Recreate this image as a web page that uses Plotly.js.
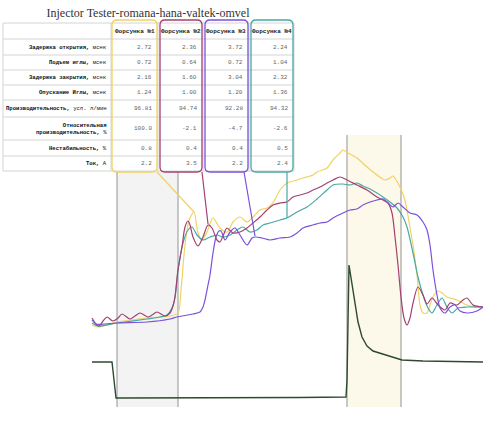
<!DOCTYPE html>
<html><head><meta charset="utf-8">
<script src="https://cdn.plot.ly/plotly-3.0.1.min.js"></script>
<style>html,body{margin:0;padding:0;background:#fff}#chart{width:500px;height:426px}</style>
</head><body><div id="chart"></div>
<script>
// ---------- text / table data ----------
const chartTitle = 'Injector Tester-romana-hana-valtek-omvel';
const injectors = ['Форсунка №1', 'Форсунка №2', 'Форсунка №3', 'Форсунка №4'];
const rowLabels = [
  '<b>Задержка открытия,</b> мсек',
  '<b>Подъем иглы,</b> мсек',
  '<b>Задержка закрытия,</b> мсек',
  '<b>Опускание Иглы,</b> мсек',
  '<b>Производительность,</b> усл. л/мин',
  '<b>Относительная</b><br><b>производительность,</b> %',
  '<b>Нестабильность,</b> %',
  '<b>Ток,</b> А'
];
const rowDecimals = [2, 2, 2, 2, 2, 1, 1, 1];
const injector1 = [2.72, 0.72, 2.16, 1.24, 96.81, 100.0, 0.8, 2.2];
const injector2 = [2.36, 0.64, 1.60, 1.00, 94.74, -2.1, 0.4, 3.5];
const injector3 = [3.72, 0.72, 3.04, 1.20, 92.28, -4.7, 0.4, 2.2];
const injector4 = [2.24, 1.04, 2.32, 1.36, 94.32, -2.6, 0.5, 2.4];

// ---------- waveform data (time samples, signal level; level axis points down) ----------
const yellowT = [92,98,117,147,170,178,181,184,187,190,194,198,202,207,213,220,227,233,240,247,253,260,267,273,280,287,297,303,313,317,327,333,340,343,348,357,367,377,385,390,393,400,404,407,410,413,417,420,423,427,430,434,438,442,447,457,467,475,483];
const yellowV = [325,327,322,318,316,313,290,255,230,218,212,233,240,232,218,228,232,222,217,222,217,210,208,203,190,183,180,178,175,172,168,160,153,150,153,158,167,175,180,178,176,187,197,210,228,245,275,305,313,313,305,295,291,293,297,300,305,307,307];

const maroonT = [92,96,99,103,107,113,118,122,130,135,140,148,152,157,165,170,173,175,178,182,185,188,190,193,198,203,208,212,217,220,223,227,233,240,247,253,260,267,273,280,287,293,300,307,313,320,327,333,340,347,357,367,377,383,388,392,395,398,401,404,407,410,413,418,423,427,432,438,445,450,457,463,467,473,483];
const maroonV = [318,324,326,321,317,321,318,314,319,316,313,317,315,312,316,313,306,297,270,247,227,221,225,237,246,237,225,228,240,242,236,228,233,232,228,223,217,210,205,203,202,197,195,193,190,187,183,180,177,180,185,190,197,200,203,213,237,265,297,318,325,318,303,287,295,304,298,305,310,303,305,300,298,305,307];

const tealT = [92,98,117,147,160,167,172,175,178,183,188,192,197,203,210,217,223,230,237,243,250,257,263,270,280,287,297,307,317,327,333,343,350,357,363,370,377,383,390,397,403,407,413,418,423,428,432,437,442,447,452,458,467,483];
const tealV = [323,326,323,319,317,315,308,297,270,243,230,227,235,240,237,235,237,235,230,227,232,230,225,223,220,218,212,207,199,190,185,184,185,183,186,189,193,197,202,208,217,227,253,277,295,308,313,305,298,307,313,308,307,307];

const purpleT = [92,96,105,117,147,170,177,193,200,203,205,208,210,213,216,219,221,225,230,235,240,247,252,255,262,270,280,290,297,303,313,320,327,333,343,350,357,363,370,377,383,388,393,398,403,410,417,423,427,430,433,437,440,445,450,455,460,467,477,483];
const purpleV = [320,324,324,323,322,319,317,314,312,307,300,285,275,253,237,231,231,240,232,228,235,245,238,237,238,240,238,237,233,228,225,223,222,218,213,210,209,205,202,200,199,203,207,203,207,213,215,222,230,245,270,295,308,313,307,305,311,313,311,307];

const currentT = [92,112,114,116,120,200,300,346,347,349,352,355,358,362,367,373,380,393,402,423,483];
const currentV = [362,362,380,398,398,398,397.5,397,380,265,283,305,322,337,346,351,353,357,360,361,362];

// event markers (injection window edges) and highlighted windows
const eventT = [117, 178, 347, 401];
const eventTop = [172, 172, 135, 135];
const markerBottom = 407;

// table geometry (in the same units as the plot)
const colEdges = [3, 111, 158, 203, 249, 294];
const tableTop = 23;
const rowHeights = [16, 16, 15, 15, 15, 17, 23, 16, 15];

// injector column boxes: [left, right], callout target on each curve
const boxLeft = [112, 160, 205, 251];
const boxRight = [157, 202, 248, 293];
const boxTop = 20, boxBottom = 172;
const calloutFromT = [157, 202, 244, 287];
const calloutToT = [194, 208, 255, 287];
const calloutToV = [212, 224, 236, 218];

const colors = ['#f0d264', '#a3416f', '#7a52d9', '#46a9a3'];
const currentColor = '#2f4a30';
const gridColor = '#d4d4d4';

// ---------- build ----------
function fmtCol(arr) { return arr.map((v, i) => v.toFixed(rowDecimals[i])); }

const traces = [];
const series = [[yellowT, yellowV], [maroonT, maroonV], [purpleT, purpleV], [tealT, tealV]];
traces.push({type: 'scatter', mode: 'lines', x: currentT, y: currentV, line: {color: currentColor, width: 1.4}, hoverinfo: 'skip'});
[0, 3, 1, 2].forEach(i => {
  traces.push({type: 'scatter', mode: 'lines', x: series[i][0], y: series[i][1],
    line: {color: colors[i], width: 1.2, shape: 'spline', smoothing: 0.8}, hoverinfo: 'skip'});
});

const shapes = [];
shapes.push({type: 'rect', xref: 'x', yref: 'y', x0: eventT[0], x1: eventT[1], y0: eventTop[0], y1: markerBottom, fillcolor: '#f3f3f3', line: {width: 0}, layer: 'below'});
shapes.push({type: 'rect', xref: 'x', yref: 'y', x0: eventT[2], x1: eventT[3], y0: eventTop[2], y1: markerBottom, fillcolor: '#fcf8ea', line: {width: 0}, layer: 'below'});
eventT.forEach((t, i) => shapes.push({type: 'line', xref: 'x', yref: 'y', x0: t, x1: t, y0: eventTop[i], y1: markerBottom, line: {color: '#939393', width: 1}, layer: 'below'}));

// table grid
const rowEdges = [tableTop];
rowHeights.forEach(h => rowEdges.push(rowEdges[rowEdges.length - 1] + h));
const tableBottom = rowEdges[rowEdges.length - 1];
rowEdges.forEach(y => shapes.push({type: 'line', xref: 'x', yref: 'y', x0: colEdges[0], x1: colEdges[colEdges.length - 1], y0: y, y1: y, line: {color: gridColor, width: 1}, layer: 'below'}));
colEdges.forEach(x => shapes.push({type: 'line', xref: 'x', yref: 'y', x0: x, x1: x, y0: tableTop, y1: tableBottom, line: {color: gridColor, width: 1}, layer: 'below'}));

// table text
const annotations = [];
const tfont = 'Liberation Mono, monospace';
injectors.forEach((name, c) => annotations.push({xref: 'x', yref: 'y', x: (colEdges[c + 1] + colEdges[c + 2]) / 2, y: (rowEdges[0] + rowEdges[1]) / 2,
  text: '<b>' + name + '</b>', showarrow: false, xanchor: 'center', yanchor: 'middle', font: {family: tfont, size: 6, color: '#222'}}));
const valueCols = [injector1, injector2, injector3, injector4].map(fmtCol);
rowLabels.forEach((lab, r) => {
  const yc = (rowEdges[r + 1] + rowEdges[r + 2]) / 2;
  annotations.push({xref: 'x', yref: 'y', x: colEdges[1] - 2, y: yc, text: lab, showarrow: false, xanchor: 'right', yanchor: 'middle', align: 'right',
    font: {family: tfont, size: 5.6, color: '#111'}});
  valueCols.forEach((col, c) => annotations.push({xref: 'x', yref: 'y', x: colEdges[c + 2] - 4, y: yc, text: col[r], showarrow: false, xanchor: 'right', yanchor: 'middle',
    font: {family: tfont, size: 6, color: '#666'}}));
});

// column boxes and callouts
const rad = 5;
boxLeft.forEach((x0, i) => {
  const x1 = boxRight[i], y0 = boxTop, y1 = boxBottom;
  const p = `M ${x0 + rad},${y0} L ${x1 - rad},${y0} Q ${x1},${y0} ${x1},${y0 + rad} L ${x1},${y1 - rad} Q ${x1},${y1} ${x1 - rad},${y1} L ${x0 + rad},${y1} Q ${x0},${y1} ${x0},${y1 - rad} L ${x0},${y0 + rad} Q ${x0},${y0} ${x0 + rad},${y0} Z`;
  shapes.push({type: 'path', xref: 'x', yref: 'y', path: p, line: {color: colors[i], width: 1.3}, layer: 'above'});
  shapes.push({type: 'line', xref: 'x', yref: 'y', x0: calloutFromT[i], y0: y1, x1: calloutToT[i], y1: calloutToV[i], line: {color: colors[i], width: 1.2}, layer: 'above'});
});

const layout = {
  width: 500, height: 426, margin: {l: 0, r: 0, t: 0, b: 0},
  paper_bgcolor: '#ffffff', plot_bgcolor: 'rgba(0,0,0,0)', showlegend: false,
  title: {text: chartTitle, font: {family: 'Liberation Serif, serif', size: 12, color: '#333'}, x: 148/500, xanchor: 'center', y: 1 - 13/426, yanchor: 'middle'},
  xaxis: {range: [0, 500], visible: false, fixedrange: true},
  yaxis: {range: [426, 0], visible: false, fixedrange: true},
  shapes: shapes, annotations: annotations
};

Plotly.newPlot('chart', traces, layout, {displayModeBar: false, staticPlot: true});
</script>
</body></html>
